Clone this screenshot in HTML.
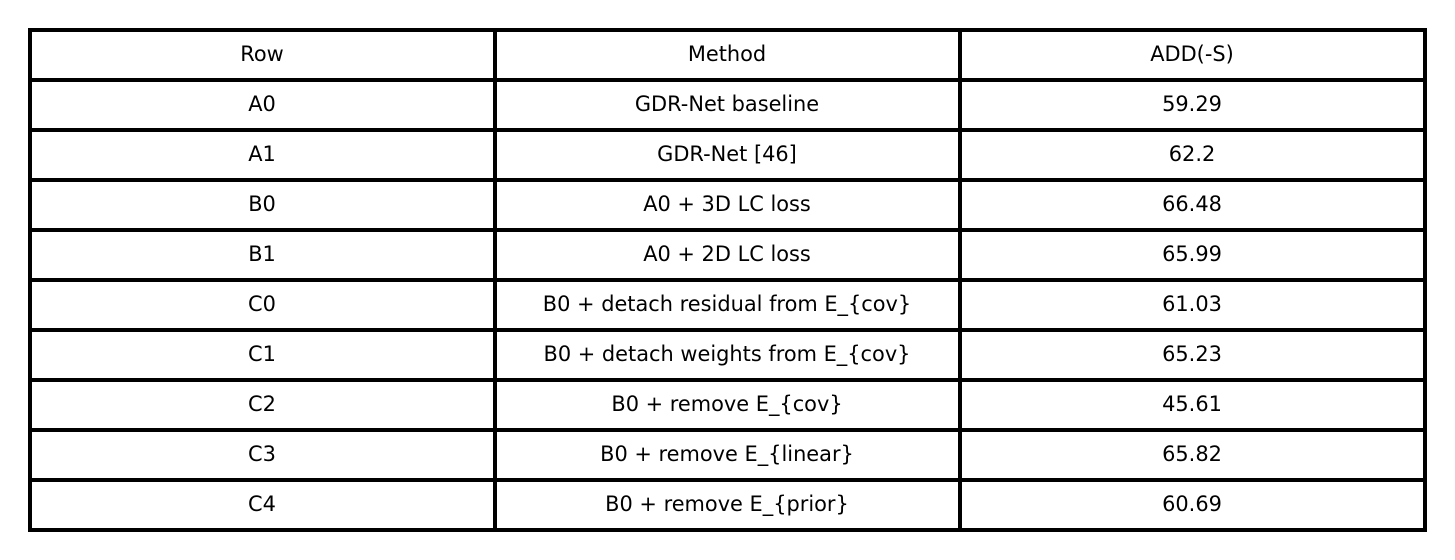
<!DOCTYPE html>
<html><head><meta charset="utf-8"><style>
html,body{margin:0;padding:0;background:#fff;width:1455px;height:560px;overflow:hidden}
svg text{font-family:"DejaVu Sans","Liberation Sans",sans-serif;font-size:20.9px;fill:#000;text-anchor:middle;dominant-baseline:central}
</style></head><body>
<svg width="1455" height="560" xmlns="http://www.w3.org/2000/svg">
<g stroke="#000" stroke-width="4" fill="none">
<rect x="30" y="30" width="1395" height="500"/>
<line x1="495" y1="30" x2="495" y2="530"/>
<line x1="960" y1="30" x2="960" y2="530"/>
<line x1="30" y1="80" x2="1425" y2="80"/>
<line x1="30" y1="130" x2="1425" y2="130"/>
<line x1="30" y1="180" x2="1425" y2="180"/>
<line x1="30" y1="230" x2="1425" y2="230"/>
<line x1="30" y1="280" x2="1425" y2="280"/>
<line x1="30" y1="330" x2="1425" y2="330"/>
<line x1="30" y1="380" x2="1425" y2="380"/>
<line x1="30" y1="430" x2="1425" y2="430"/>
<line x1="30" y1="480" x2="1425" y2="480"/>
</g>
<g transform="translate(0,-1)">
<text x="262" y="55">Row</text><text x="727" y="55">Method</text><text x="1192" y="55">ADD(-S)</text>
<text x="262" y="105">A0</text><text x="727" y="105">GDR-Net baseline</text><text x="1192" y="105">59.29</text>
<text x="262" y="155">A1</text><text x="727" y="155">GDR-Net [46]</text><text x="1192" y="155">62.2</text>
<text x="262" y="205">B0</text><text x="727" y="205">A0 + 3D LC loss</text><text x="1192" y="205">66.48</text>
<text x="262" y="255">B1</text><text x="727" y="255">A0 + 2D LC loss</text><text x="1192" y="255">65.99</text>
<text x="262" y="305">C0</text><text x="727" y="305">B0 + detach residual from E_{cov}</text><text x="1192" y="305">61.03</text>
<text x="262" y="355">C1</text><text x="727" y="355">B0 + detach weights from E_{cov}</text><text x="1192" y="355">65.23</text>
<text x="262" y="405">C2</text><text x="727" y="405">B0 + remove E_{cov}</text><text x="1192" y="405">45.61</text>
<text x="262" y="455">C3</text><text x="727" y="455">B0 + remove E_{linear}</text><text x="1192" y="455">65.82</text>
<text x="262" y="505">C4</text><text x="727" y="505">B0 + remove E_{prior}</text><text x="1192" y="505">60.69</text>
</g>
</svg>
</body></html>
